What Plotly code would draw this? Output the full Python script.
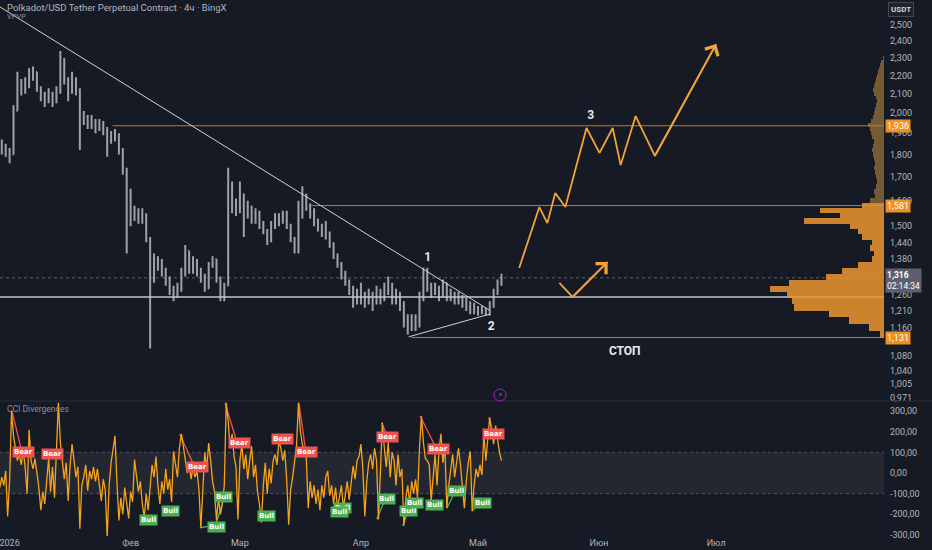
import numpy as np
import pandas as pd
import plotly.graph_objects as go

# ---------------- price, one bar per day ----------------
bar_start = "2025-12-29"
first_open = 1.83
close = [1.82, 1.84, 1.82,
         1.80, 2.01, 2.17, 2.13, 2.15, 2.20, 2.22, 2.13, 2.09, 2.07,
         2.09, 2.07, 2.11, 2.29, 2.18, 2.12, 2.17, 2.12, 1.97, 1.97,
         1.94, 1.95, 1.92, 1.94, 1.915, 1.89, 1.875, 1.89, 1.82, 1.73, 1.645,
         1.53, 1.55, 1.525, 1.545, 1.45, 1.31, 1.36, 1.37, 1.34, 1.31,
         1.28, 1.26, 1.28, 1.33, 1.41, 1.34, 1.37, 1.34, 1.32, 1.28,
         1.36, 1.38, 1.31, 1.26, 1.29, 1.62, 1.58, 1.564,
         1.62, 1.545, 1.564, 1.525, 1.545, 1.50, 1.48, 1.45, 1.505, 1.53,
         1.52, 1.545, 1.505, 1.45, 1.41, 1.545, 1.62, 1.58, 1.555, 1.52,
         1.49, 1.48, 1.47, 1.43, 1.39, 1.36, 1.325, 1.30, 1.28, 1.245, 1.26,
         1.25, 1.245, 1.26, 1.245, 1.27, 1.25, 1.28, 1.29, 1.245, 1.26,
         1.23, 1.19, 1.16, 1.183, 1.17, 1.245, 1.325, 1.29, 1.27, 1.28,
         1.26, 1.30, 1.25, 1.265, 1.245, 1.255, 1.24, 1.23, 1.214, 1.22,
         1.205, 1.214, 1.205, 1.23, 1.27, 1.30, 1.316]
high = [1.86, 1.87, 1.85,
        1.83, 2.04, 2.22, 2.18, 2.19, 2.24, 2.25, 2.22, 2.14, 2.11,
        2.13, 2.11, 2.14, 2.34, 2.30, 2.19, 2.22, 2.19, 2.13, 2.01,
        1.99, 1.99, 1.97, 1.97, 1.96, 1.93, 1.91, 1.92, 1.90, 1.83, 1.74,
        1.65, 1.58, 1.57, 1.57, 1.55, 1.46, 1.40, 1.39, 1.38, 1.35,
        1.32, 1.29, 1.30, 1.35, 1.43, 1.41, 1.39, 1.38, 1.35, 1.33,
        1.37, 1.39, 1.38, 1.32, 1.30, 1.74, 1.68, 1.61,
        1.68, 1.63, 1.60, 1.58, 1.57, 1.56, 1.52, 1.49, 1.52, 1.55,
        1.55, 1.56, 1.56, 1.51, 1.46, 1.60, 1.66, 1.63, 1.59, 1.57,
        1.53, 1.51, 1.52, 1.48, 1.44, 1.40, 1.37, 1.34, 1.31, 1.29, 1.28,
        1.30, 1.27, 1.28, 1.27, 1.29, 1.28, 1.30, 1.32, 1.30, 1.28,
        1.27, 1.24, 1.20, 1.20, 1.20, 1.27, 1.35, 1.35, 1.30, 1.30,
        1.29, 1.31, 1.30, 1.28, 1.27, 1.27, 1.26, 1.25, 1.24, 1.235,
        1.225, 1.225, 1.22, 1.24, 1.28, 1.31, 1.33]
low = [1.79, 1.80, 1.79,
       1.76, 1.80, 2.01, 2.09, 2.10, 2.13, 2.17, 2.11, 2.06, 2.03,
       2.05, 2.03, 2.05, 2.10, 2.15, 2.06, 2.10, 2.09, 1.82, 1.94,
       1.92, 1.92, 1.90, 1.91, 1.89, 1.79, 1.85, 1.86, 1.80, 1.71, 1.40,
       1.50, 1.52, 1.51, 1.51, 1.44, 1.10, 1.30, 1.34, 1.32, 1.29,
       1.26, 1.24, 1.25, 1.27, 1.32, 1.33, 1.33, 1.32, 1.30, 1.27,
       1.28, 1.35, 1.30, 1.24, 1.24, 1.29, 1.55, 1.54,
       1.55, 1.46, 1.53, 1.51, 1.51, 1.49, 1.47, 1.43, 1.44, 1.49,
       1.50, 1.51, 1.49, 1.44, 1.40, 1.40, 1.53, 1.56, 1.53, 1.50,
       1.48, 1.46, 1.45, 1.42, 1.38, 1.35, 1.31, 1.29, 1.26, 1.22, 1.23,
       1.23, 1.22, 1.23, 1.21, 1.23, 1.23, 1.24, 1.26, 1.23, 1.23,
       1.21, 1.16, 1.14, 1.15, 1.15, 1.16, 1.24, 1.27, 1.25, 1.26,
       1.24, 1.25, 1.24, 1.24, 1.23, 1.23, 1.22, 1.21, 1.20, 1.20,
       1.195, 1.20, 1.195, 1.195, 1.22, 1.26, 1.29]
last_price = 1.316

# ---------------- CCI, one value every 12h ----------------
cci_start = "2025-12-29 00:00"
cci = [-30, -70, -20, -60, 10, -210, -40, 300, 180, 120,
       60, 90, 40, 110, 25, -100, 210, 60, 20, 70,
       0, -70, -180, -90, -150, -40, 70, -90, 30, -120,
       90, 340, 150, 60, -30, 50, -135, 40, 140, 60,
       -20, 30, -270, -60, -20, 40, -85, 10, -30, 30,
       -40, 20, -60, -135, -30, -80, -310, -60, 50, 105,
       180, -40, -230, -120, -200, -70, -150, -220, -90, -140,
       65, -20, -90, -40, -150, -215, -100, -180, -60, 40,
       -20, 80, -60, -150, -40, -100, 20, -80, -30, -140,
       105, 40, -20, 120, 190, 130, 60, 0, 40, -30,
       30, -20, 10, -80, -265, -60, 100, 20, 145, 60,
       -40, -90, -230, -120, -200, -150, -60, 340, 250, 120,
       190, 80, 30, -225, 60, 140, 20, 90, -30, 60,
       130, -20, 40, -90, -150, -240, -60, 50, -100, 20,
       -50, 60, 90, 40, 155, 120, 60, 110, -40, -250,
       -80, -20, 60, 130, 340, 200, 140, 90, 75, -170,
       -40, -120, -60, -150, -80, -180, -60, -120, -20, 10,
       -110, -60, -150, -70, -170, -120, -60, -170, -90, -40,
       -130, -60, 35, -30, 60, 80, 140, 20, -210, -40,
       50, 90, 20, 120, 60, -225, 40, 245, 120, 30,
       150, -20, 100, 60, -60, 90, -20, 20, -255, -120,
       -60, -150, -40, -100, -30, -120, 120, 275, 150, 70,
       60, 40, -135, -40, 90, -60, 110, 190, 50, 130,
       -170, -60, 30, 90, -20, 60, 120, 40, -60, -170,
       -40, 50, 105, -185, -60, 20, -20, 40, -10, 190,
       60, 150, 270, 200, 140, 230, 160, 100, 60]

# divergence lines and labels
bear_x0 = ["2026-01-01 15:00", "2026-02-13 14:00", "2026-02-25 04:00", "2026-03-16 03:00",
           "2026-04-06 07:00", "2026-04-16 04:00", "2026-05-03 18:00"]
bear_y0 = [300, 189, 339, 340, 243, 276, 268]
bear_x1 = ["2026-01-03 23:00", "2026-02-16 23:00", "2026-02-28 00:00", "2026-03-17 18:00",
           "2026-04-07 14:00", "2026-04-20 00:00", "2026-05-04 20:00"]
bear_y1 = [116, 48, 165, 122, 187, 131, 196]
bear_lx = ["2026-01-04 11:00", "2026-01-12 01:00", "2026-02-18 06:00", "2026-02-28 19:00",
           "2026-03-11 20:00", "2026-03-18 00:00", "2026-04-07 21:00", "2026-04-20 20:00",
           "2026-05-05 01:00"]
bear_ly = [102, 92, 29, 145, 165, 102, 174, 115, 187]

bull_x0 = ["2026-02-18 18:00", "2026-02-22 21:00", "2026-04-05 01:00", "2026-04-11 17:00",
           "2026-04-23 01:00", "2026-04-29 11:00"]
bull_y0 = [-265, -247, -224, -257, -171, -184]
bull_x1 = ["2026-02-21 07:00", "2026-02-24 20:00", "2026-04-07 00:00", "2026-04-13 00:00",
           "2026-04-24 18:00", "2026-05-01 05:00"]
bull_y1 = [-257, -127, -136, -192, -103, -151]
bull_lx = ["2026-02-05 14:00", "2026-02-11 07:00", "2026-02-22 23:00", "2026-02-24 22:00",
           "2026-03-07 17:00", "2026-03-27 04:00", "2026-03-26 12:00", "2026-04-07 11:00",
           "2026-04-13 06:00", "2026-04-14 18:00", "2026-04-19 23:00", "2026-04-25 14:00",
           "2026-05-02 04:00"]
bull_ly = [-229, -184, -261, -116, -208, -168, -187, -124, -184, -144, -155, -87, -144]

# ---------------- drawings ----------------
trend_x = ["2025-12-29 00:00", "2026-05-03 20:00"]
trend_y = [2.626, 1.213]
tri_x = ["2026-04-13 06:00", "2026-05-04 02:00"]
tri_y = [1.133, 1.2005]
support = 1.2535
lvl_price = [1.936, 1.581, 1.131]
lvl_label = ["1,936", "1,581", "1,131"]
lvl_from = ["2026-01-27 09:00", "2026-03-19 07:00", "2026-04-14 00:00"]

path_x = ["2026-05-11 13:00", "2026-05-16 17:00", "2026-05-18 18:00", "2026-05-20 19:00",
          "2026-05-23 09:00", "2026-05-28 19:00", "2026-06-01 03:00", "2026-06-04 12:00",
          "2026-06-06 13:00", "2026-06-10 09:00", "2026-06-15 07:00", "2026-07-01 00:00"]
path_y = [1.349, 1.575, 1.512, 1.632, 1.575, 1.925, 1.807, 1.925, 1.752, 1.984, 1.793, 2.382]
alt_x = ["2026-05-21 20:00", "2026-05-25 05:00", "2026-06-03 05:00"]
alt_y = [1.299, 1.2535, 1.370]

wave_text = ["1", "2", "3", "СТОП"]
wave_x = ["2026-04-18 03:00", "2026-05-04 09:00", "2026-05-29 20:00", "2026-06-07 14:00"]
wave_y = [1.384, 1.162, 1.984, 1.090]

# ---------------- visible range volume profile ----------------
vp_price = np.round(np.arange(1.14, 2.301, 0.02), 2)
vp_volume = [4, 15, 35, 55, 90, 92, 97, 114, 95,
             58, 42, 26, 12, 10, 14, 12, 22, 26, 34,
             80, 44, 64, 22, 14, 9, 10, 8, 7, 8,
             9, 10, 9, 10, 11, 12, 11, 10, 12, 13,
             14, 16, 13, 11, 10, 9, 8, 7, 8, 10,
             11, 10, 9, 8, 7, 6, 5, 4, 3, 1]
value_area_top = 1.58

# ---------------- axes ----------------
x_range = ["2025-12-29 13:00", "2026-08-13 00:00"]
month_ticks = ["2026-01-01", "2026-02-01", "2026-03-01", "2026-04-01", "2026-05-01",
               "2026-06-01", "2026-07-01"]
month_labels = ["2026", "Фев", "Мар", "Апр", "Май", "Июн", "Июл"]
price_ticks = [2.5, 2.4, 2.3, 2.2, 2.1, 2.0, 1.9, 1.8, 1.7, 1.6, 1.5, 1.44, 1.38,
               1.26, 1.21, 1.16, 1.08, 1.04, 1.005, 0.971]
price_labels = ["2,500", "2,400", "2,300", "2,200", "2,100", "2,000", "1,900", "1,800",
                "1,700", "1,600", "1,500", "1,440", "1,380", "1,260", "1,210", "1,160",
                "1,080", "1,040", "1,005", "0,971"]
price_range = [0.9628, 2.664]
cci_ticks = [300, 200, 100, 0, -100, -200, -300]
cci_labels = ["300,00", "200,00", "100,00", "0,00", "-100,00", "-200,00", "-300,00"]

BG = "#161a25"
TXT = "#b2b5be"
CANDLE = "#9ea1aa"
LEVEL = "#c47a22"
PATH = "#f2a33a"
CCI_C = "#f7a21b"
BEAR = "#ef5350"
BULL = "#4caf50"

bar_dates = pd.date_range(bar_start, periods=len(close), freq="D")
opens = [first_open] + close[:-1]
hi = np.maximum.reduce([high, opens, close])
lo = np.minimum.reduce([low, opens, close])
cci_dates = pd.date_range(cci_start, periods=len(cci), freq="12h")
log_range = list(np.log10(price_range))

fig = go.Figure()

# white trend lines and support
fig.add_trace(go.Scatter(x=[x_range[0], x_range[1]], y=[last_price, last_price], mode="lines",
                         line=dict(color="rgba(178,181,190,0.45)", width=1, dash="dot"),
                         hoverinfo="skip"))
fig.add_trace(go.Scatter(x=[x_range[0], x_range[1]], y=[support, support], mode="lines",
                         line=dict(color="#c3c6ce", width=1.6), hoverinfo="skip"))
for p, start in zip(lvl_price, lvl_from):
    fig.add_trace(go.Scatter(x=[start, x_range[1]], y=[p, p], mode="lines",
                             line=dict(color=LEVEL, width=1), hoverinfo="skip"))

fig.add_trace(go.Ohlc(
    x=bar_dates, open=opens, high=hi, low=lo, close=close, tickwidth=0.25,
    increasing=dict(line=dict(color=CANDLE, width=2)),
    decreasing=dict(line=dict(color=CANDLE, width=2)),
    hoverinfo="skip"))

fig.add_trace(go.Scatter(x=trend_x, y=trend_y, mode="lines",
                         line=dict(color="#d1d4dc", width=1), hoverinfo="skip"))
fig.add_trace(go.Scatter(x=tri_x, y=tri_y, mode="lines",
                         line=dict(color="#d1d4dc", width=1), hoverinfo="skip"))

# projected path
fig.add_trace(go.Scatter(x=path_x, y=path_y, mode="lines",
                         line=dict(color=PATH, width=1.8), hoverinfo="skip"))
fig.add_trace(go.Scatter(x=alt_x, y=alt_y, mode="lines",
                         line=dict(color=PATH, width=1.8), hoverinfo="skip"))

fig.add_trace(go.Scatter(x=wave_x, y=wave_y, mode="text", text=["<b>%s</b>" % t for t in wave_text],
                         textfont=dict(color="#e8e9ec", size=12, family="Roboto"),
                         hoverinfo="skip"))

# volume profile on overlay axes
vp_colors = ["rgba(236,150,48,0.85)" if p <= value_area_top else "rgba(176,132,60,0.62)"
             for p in vp_price]
vp_width = np.log10(vp_price + 0.01) - np.log10(vp_price - 0.01)
fig.add_trace(go.Bar(x=vp_volume, y=np.log10(vp_price), width=vp_width, orientation="h",
                     marker=dict(color=vp_colors, line=dict(width=0)),
                     xaxis="x2", yaxis="y3", hoverinfo="skip"))

# CCI pane
for x0, y0, x1, y1 in zip(bear_x0, bear_y0, bear_x1, bear_y1):
    fig.add_trace(go.Scatter(x=[x0, x1], y=[y0, y1], mode="lines", yaxis="y2",
                             line=dict(color=BEAR, width=1.3), hoverinfo="skip"))
for x0, y0, x1, y1 in zip(bull_x0, bull_y0, bull_x1, bull_y1):
    fig.add_trace(go.Scatter(x=[x0, x1], y=[y0, y1], mode="lines", yaxis="y2",
                             line=dict(color=BULL, width=1.3), hoverinfo="skip"))
fig.add_trace(go.Scatter(x=cci_dates, y=cci, mode="lines", yaxis="y2",
                         line=dict(color=CCI_C, width=1.3), hoverinfo="skip"))

ann = []
for x, y in zip(bear_lx, bear_ly):
    ann.append(dict(x=x, y=y, xref="x", yref="y2", text="<b>Bear</b>", showarrow=False,
                    font=dict(size=7, color="white", family="DejaVu Sans"),
                    bgcolor=BEAR, borderpad=1))
for x, y in zip(bull_lx, bull_ly):
    ann.append(dict(x=x, y=y, xref="x", yref="y2", text="<b>Bull</b>", showarrow=False,
                    font=dict(size=7, color="white", family="DejaVu Sans"),
                    bgcolor=BULL, borderpad=1))

# arrow heads of the projected paths
for xs, ys in ((path_x, path_y), (alt_x, alt_y)):
    ann.append(dict(x=xs[-1], y=np.log10(ys[-1]), xref="x", yref="y",
                    ax=xs[-2], ay=np.log10(ys[-2]), axref="x", ayref="y",
                    text="", showarrow=True, arrowhead=4, arrowsize=1.6, arrowwidth=1.8,
                    arrowcolor=PATH, standoff=0))

# price boxes on the right scale
for p, t in zip(lvl_price, lvl_label):
    ann.append(dict(x=1, y=np.log10(p), xref="paper", yref="y", xanchor="left", xshift=1,
                    text=t, showarrow=False, bgcolor="#f0901e", borderpad=1,
                    font=dict(size=9, color="white", family="Roboto")))
ann.append(dict(x=1, y=np.log10(last_price), xref="paper", yref="y", xanchor="left",
                yanchor="middle", xshift=1, yshift=-3, showarrow=False,
                text="<b>1,316</b><br>02:14:34", bgcolor="#5d606b", borderpad=1, align="left",
                font=dict(size=8.5, color="white", family="Roboto")))
ann.append(dict(x=1, y=1, xref="paper", yref="paper", xanchor="left", yanchor="top",
                xshift=4, yshift=-2, text="<b>USDT</b>", showarrow=False, bgcolor="#1e222d",
                bordercolor="#434651", borderwidth=1, borderpad=2,
                font=dict(size=8, color="#d1d4dc", family="Roboto")))

# pane titles
ann.append(dict(x=0, y=1, xref="paper", yref="paper", xanchor="left", yanchor="middle",
                xshift=5, yshift=-7, showarrow=False,
                text="Polkadot/USD Tether Perpetual Contract · 4ч · BingX",
                font=dict(size=9.5, color=TXT, family="Roboto")))
ann.append(dict(x=0, y=1, xref="paper", yref="paper", xanchor="left", yanchor="middle",
                xshift=5, yshift=-16, showarrow=False, text="VPVP",
                font=dict(size=7.5, color="#8a8e99", family="Roboto")))
ann.append(dict(x=0, y=0.25, xref="paper", yref="paper", xanchor="left", yanchor="middle",
                xshift=5, yshift=-7, showarrow=False, text="CCI Divergences",
                font=dict(size=8.5, color="#8a8e99", family="Roboto")))
ann.append(dict(x=500 / 884, y=(536 - 395) / 536, xref="paper", yref="paper",
                xanchor="center", yanchor="middle", showarrow=False, text="⚡",
                font=dict(size=7, color="#c158dc", family="DejaVu Sans")))

shapes = [
    dict(type="rect", xref="paper", x0=0, x1=1, yref="y2", y0=-100, y1=100,
         fillcolor="rgba(120,123,134,0.14)", line=dict(width=0), layer="below"),
    dict(type="line", xref="paper", x0=0, x1=1, yref="y2", y0=100, y1=100,
         line=dict(color="rgba(120,123,134,0.55)", width=1, dash="dot"), layer="below"),
    dict(type="line", xref="paper", x0=0, x1=1, yref="y2", y0=-100, y1=-100,
         line=dict(color="rgba(120,123,134,0.55)", width=1, dash="dot"), layer="below"),
    dict(type="line", xref="paper", x0=0, x1=1.06, yref="paper", y0=0.2519, y1=0.2519,
         line=dict(color="#2a2e39", width=1)),
    dict(type="circle", xref="paper", yref="paper", x0=494 / 884, x1=506 / 884,
         y0=(536 - 401) / 536, y1=(536 - 389) / 536, line=dict(color="#9c27b0", width=1)),
]

axis_font = dict(size=9, color=TXT, family="Roboto")
fig.update_layout(
    width=932, height=550, margin=dict(l=0, r=48, t=0, b=14),
    paper_bgcolor=BG, plot_bgcolor=BG, showlegend=False, bargap=0,
    annotations=ann, shapes=shapes,
    xaxis=dict(type="date", range=x_range, anchor="y2", tickmode="array",
               tickvals=month_ticks, ticktext=month_labels, showgrid=False, zeroline=False,
               ticks="", tickfont=axis_font, ticklabeloverflow="allow",
               rangeslider=dict(visible=False), fixedrange=True),
    yaxis=dict(type="log", domain=[0.252, 1], range=log_range, side="right", anchor="x",
               tickmode="array", tickvals=price_ticks, ticktext=price_labels, showgrid=False,
               zeroline=False, ticks="", tickfont=axis_font, ticklabelstandoff=5,
               fixedrange=True),
    yaxis2=dict(domain=[0, 0.25], range=[-305, 344], side="right", anchor="x",
                tickmode="array", tickvals=cci_ticks, ticktext=cci_labels, showgrid=False,
                zeroline=False, ticks="", tickfont=axis_font, ticklabelstandoff=5,
                fixedrange=True),
    xaxis2=dict(overlaying="x", range=[884, 0], visible=False, anchor="y3", fixedrange=True),
    yaxis3=dict(overlaying="y", range=log_range, visible=False, anchor="x2", fixedrange=True),
)

# the page body has a default 8px margin; drop it so the figure fills the window
fig.write_html("out.html", config={"displayModeBar": False},
               post_script="document.body.style.margin='0px';")
